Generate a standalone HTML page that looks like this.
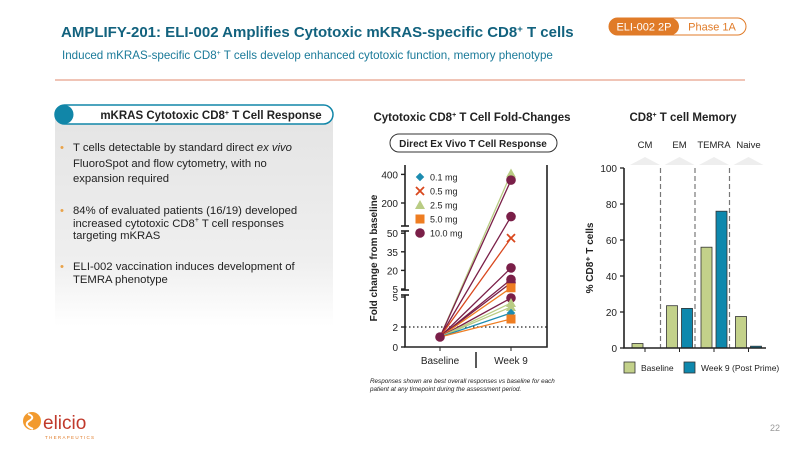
<!DOCTYPE html>
<html><head><meta charset="utf-8"><style>
body{margin:0;width:800px;height:449px;background:#fff;overflow:hidden;font-family:"Liberation Sans",Arial,sans-serif}
svg{position:absolute;left:0;top:0}
.bul{position:absolute;left:73px;font-size:11.3px;color:#222;line-height:14px;width:232px}
.bul:before{content:"•";color:#e9a34a;position:absolute;left:-13px}
</style></head><body>
<svg id="s" width="800" height="449" viewBox="0 0 800 449" xmlns="http://www.w3.org/2000/svg" font-family="Liberation Sans, Arial, sans-serif">
<defs><linearGradient id="g" x1="0" y1="0" x2="0" y2="1"><stop offset="0" stop-color="#e4e4e4"/><stop offset="0.7" stop-color="#efefef"/><stop offset="1" stop-color="#fff"/></linearGradient></defs>
<text x="61" y="37" font-size="15" font-weight="bold" fill="#12627e">AMPLIFY-201: ELI-002 Amplifies Cytotoxic mKRAS-specific CD8<tspan font-size="9.5" dy="-5">+</tspan><tspan dy="5"> T cells</tspan></text>
<text x="62" y="59" font-size="11.6" fill="#1a7a99">Induced mKRAS-specific CD8<tspan font-size="7" dy="-4">+</tspan><tspan dy="4"> T cells develop enhanced cytotoxic function, memory phenotype</tspan></text>
<line x1="55" y1="80" x2="745" y2="80" stroke="#e8a08a" stroke-width="1.2"/>
<g>
<rect x="609" y="18" width="137" height="17" rx="8.5" fill="#fff" stroke="#e07b28"/>
<rect x="609" y="18" width="70" height="17" rx="8.5" fill="#e07b28"/>
<text x="644" y="30.5" font-size="11" fill="#fff" text-anchor="middle">ELI-002 2P</text>
<text x="712" y="30.5" font-size="11" fill="#e07b28" text-anchor="middle">Phase 1A</text>
</g>
<rect x="55" y="113" width="278" height="213" fill="url(#g)"/>
<g>
<rect x="55" y="105" width="278" height="19" rx="9.5" fill="#fff" stroke="#1186a8" stroke-width="1.5"/>
<circle cx="64" cy="114.5" r="9.5" fill="#1186a8"/>
<text x="211" y="119" font-size="11.5" font-weight="bold" fill="#222" text-anchor="middle">mKRAS Cytotoxic CD8<tspan font-size="7" dy="-4">+</tspan><tspan dy="4"> T Cell Response</tspan></text>
</g>
<text x="472" y="121" font-size="11.5" font-weight="bold" fill="#222" text-anchor="middle">Cytotoxic CD8<tspan font-size="7" dy="-4">+</tspan><tspan dy="4"> T Cell Fold-Changes</tspan></text>
<rect x="390" y="134" width="167" height="18" rx="9" fill="#fff" stroke="#333"/>
<text x="473" y="147" font-size="10" font-weight="bold" fill="#222" text-anchor="middle">Direct Ex Vivo T Cell Response</text>
<text x="683" y="121" font-size="11.5" font-weight="bold" fill="#222" text-anchor="middle">CD8<tspan font-size="7" dy="-4">+</tspan><tspan dy="4"> T cell Memory</tspan></text>
<g id="fold"></g><g id="mem"></g>
<text x="370" y="383" font-size="6.3" font-style="italic" fill="#222">Responses shown are best overall responses vs baseline for each</text>
<text x="370" y="391" font-size="6.3" font-style="italic" fill="#222">patient at any timepoint during the assessment period.</text>
<g>
<circle cx="32" cy="421" r="9" fill="#f29a2e"/><path d="M28 414 q8 3 1 7 q-6 4 4 8" stroke="#fff" stroke-width="2" fill="none"/>
<text x="43" y="429" font-size="19" fill="#c0392b">elicio</text>
<text x="45" y="439" font-size="4.5" fill="#e07b28" letter-spacing="1.3">THERAPEUTICS</text>
</g>
<text x="780" y="431" font-size="9" fill="#999" text-anchor="end">22</text>
</svg>
<div class="bul" style="top:141px;line-height:15.5px">T cells detectable by standard direct <i>ex vivo</i> FluoroSpot and flow cytometry, with no expansion required</div>
<div class="bul" style="top:205px;line-height:12.5px">84% of evaluated patients (16/19) developed increased cytotoxic CD8<sup style="font-size:7px;line-height:0">+</sup> T cell responses targeting mKRAS</div>
<div class="bul" style="top:261px;line-height:12.5px">ELI-002 vaccination induces development of TEMRA phenotype</div>
<script>
const doseLabels=["0.1 mg","0.5 mg","2.5 mg","5.0 mg","10.0 mg"];
const doseColors=["#1c8cb0","#d9481e","#b9cc84","#ee7d22","#7a1f48"];
const patientDose=[2,4,4,1,4,4,4,3,4,2,2,0,3];
const week9Values=[406,360,105,46,22,12.7,10,6,4.9,4.4,4.0,3.4,2.8];
const baselineValue=1;
const foldTicks=[0,2,5,5,20,35,50,200,400];
const memCats=["CM","EM","TEMRA","Naive"];
const memBaseline=[2.5,23.5,56,17.5];
const memWeek9=[0,22,76,1];
const memTicks=[0,20,40,60,80,100];
const NS="http://www.w3.org/2000/svg";
function mk(p,t,a){const e=document.createElementNS(NS,t);for(const k in a)e.setAttribute(k,a[k]);p.appendChild(e);return e;}
function fy(v){if(v<=5)return 347-v*10;if(v<=60)return 289-(v-5)*1.24;return 203-(v-200)*0.143;}
const F=document.getElementById('fold');
const xB=440,xW=511;
let e;
e=mk(F,'path',{d:'M405 165V226M405 231V290M405 295V347H547V165',stroke:'#222','stroke-width':1.6,fill:'none'});

mk(F,'line',{x1:401,y1:226,x2:409,y2:226,stroke:'#222','stroke-width':1.6});
mk(F,'line',{x1:401,y1:231,x2:409,y2:231,stroke:'#222','stroke-width':1.6});
mk(F,'line',{x1:401,y1:290,x2:409,y2:290,stroke:'#222','stroke-width':1.6});
mk(F,'line',{x1:401,y1:295,x2:409,y2:295,stroke:'#222','stroke-width':1.6});
foldTicks.forEach((t,i)=>{let y=fy(t);if(i===3)y=289;if(i===2)y=297;
 mk(F,'line',{x1:401,y1:y,x2:405,y2:y,stroke:'#222','stroke-width':1.4});
 const tx=mk(F,'text',{x:398,y:y+4,'font-size':10,'text-anchor':'end',fill:'#222'});tx.textContent=t;
 });
e=mk(F,'line',{x1:405,y1:fy(2),x2:547,y2:fy(2),stroke:'#222','stroke-dasharray':'1.5,2.5','stroke-width':1.2});

e=mk(F,'text',{transform:'translate(377,258) rotate(-90)','font-size':10,'font-weight':'bold','text-anchor':'middle',fill:'#222'});e.textContent='Fold change from baseline';

mk(F,'line',{x1:xB,y1:347,x2:xB,y2:351,stroke:'#222'});mk(F,'line',{x1:xW,y1:347,x2:xW,y2:351,stroke:'#222'});
mk(F,'line',{x1:476,y1:352,x2:476,y2:368,stroke:'#222','stroke-width':1.5});
e=mk(F,'text',{x:xB,y:364,'font-size':10,'text-anchor':'middle',fill:'#222'});e.textContent='Baseline';

e=mk(F,'text',{x:xW,y:364,'font-size':10,'text-anchor':'middle',fill:'#222'});e.textContent='Week 9';

function marker(p,d,x,y){const c=doseColors[d];let m;
 if(d===0)m=mk(p,'rect',{x:x-3,y:y-3,width:6,height:6,fill:c,transform:`rotate(45 ${x} ${y})`});
 else if(d===1){m=mk(p,'path',{d:`M${x-4} ${y-4}L${x+4} ${y+4}M${x+4} ${y-4}L${x-4} ${y+4}`,stroke:c,'stroke-width':1.8});}
 else if(d===2)m=mk(p,'path',{d:`M${x} ${y-5}L${x+5} ${y+4}L${x-5} ${y+4}Z`,fill:c});
 else if(d===3)m=mk(p,'rect',{x:x-4.5,y:y-4.5,width:9,height:9,fill:c});
 else m=mk(p,'circle',{cx:x,cy:y,r:4.8,fill:c});return m;}
week9Values.forEach((v,i)=>{const d=patientDose[i];
 const l=mk(F,'line',{x1:xB,y1:fy(baselineValue),x2:xW,y2:fy(v),stroke:doseColors[d],'stroke-width':1.3});
 });
marker(F,4,xB,fy(baselineValue));
week9Values.forEach((v,i)=>{const m=marker(F,patientDose[i],xW,fy(v));
 });
doseLabels.forEach((lb,i)=>{const y=177+i*14;const m=marker(F,i,420,y);
 
 const t=mk(F,'text',{x:430,y:y+3.5,'font-size':9,fill:'#222'});t.textContent=lb;
 });
const M=document.getElementById('mem');
const mx0=624,mx1=766,my0=348,my1=168;
function my(v){return my0-(v/100)*(my0-my1);}
const cw=34.5;function cx(i){return 643+i*cw;}
memTicks.forEach(t=>{mk(M,'line',{x1:620,y1:my(t),x2:mx0,y2:my(t),stroke:'#222','stroke-width':1.3});
 const tx=mk(M,'text',{x:617,y:my(t)+4,'font-size':10,'text-anchor':'end',fill:'#222'});tx.textContent=t;
 });
e=mk(M,'text',{transform:'translate(593,258) rotate(-90)','font-size':10,'font-weight':'bold','text-anchor':'middle',fill:'#222'});e.textContent='% CD8⁺ T cells';

[660.5,695,729.5].forEach(x=>mk(M,'line',{x1:x,y1:my1,x2:x,y2:my0,stroke:'#777','stroke-dasharray':'5,3','stroke-width':1.2}));
memCats.forEach((c,i)=>{
 const b=mk(M,'rect',{x:cx(i)-11,y:my(memBaseline[i]),width:11,height:my0-my(memBaseline[i]),fill:'#c3d18a',stroke:'#333','stroke-width':0.8});
 
 const w=mk(M,'rect',{x:cx(i)+4,y:my(memWeek9[i]),width:11,height:my0-my(memWeek9[i]),fill:'#0e88ad',stroke:'#333','stroke-width':0.8});
 
 mk(M,'line',{x1:cx(i)+2,y1:my0,x2:cx(i)+2,y2:my0+4,stroke:'#222'});
 mk(M,'path',{d:`M${cx(i)-13} 165L${cx(i)+2} 157L${cx(i)+17} 165Z`,fill:'#eee'});
 const t=mk(M,'text',{x:cx(i)+2,y:148,'font-size':9.5,'text-anchor':'middle',fill:'#222'});t.textContent=c;
 });
e=mk(M,'path',{d:`M${mx0} ${my1}V${my0}H${mx1}`,stroke:'#222','stroke-width':1.6,fill:'none'});

[["Baseline","#c3d18a",624,641],["Week 9 (Post Prime)","#0e88ad",684,701]].forEach(a=>{
 const r=mk(M,'rect',{x:a[2],y:362,width:11,height:11,fill:a[1],stroke:'#333','stroke-width':0.8});
 
 const t=mk(M,'text',{x:a[3],y:371,'font-size':8.5,fill:'#222'});t.textContent=a[0];
 });
</script>
</body></html>
